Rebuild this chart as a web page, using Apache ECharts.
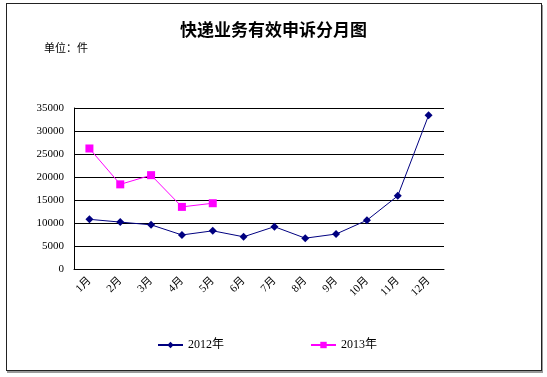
<!DOCTYPE html>
<html>
<head>
<meta charset="utf-8">
<script src="https://cdn.jsdelivr.net/npm/echarts@6/dist/echarts.min.js"></script>
<style>
html, body { margin: 0; padding: 0; background: #fff; }
#frame { position: absolute; left: 6px; top: 3px; width: 534px; height: 366px; border: 1px solid #222; box-shadow: 1px 2px 0 #999; }
#chart { position: absolute; left: 0; top: 0; width: 547px; height: 377px; }
</style>
</head>
<body>
<div id="frame"></div>
<div id="chart"></div>
<script>
const months = ['1月', '2月', '3月', '4月', '5月', '6月', '7月', '8月', '9月', '10月', '11月', '12月'];
const values2012 = [10800, 10200, 9600, 7400, 8300, 7000, 9200, 6700, 7600, 10600, 15900, 33400];
const values2013 = [26200, 18400, 20400, 13500, 14300];
const yTicks = [0, 5000, 10000, 15000, 20000, 25000, 30000, 35000];

const cjk = '"Noto Sans CJK SC", sans-serif';
const serif = '"Liberation Serif", "Noto Sans CJK SC", serif';

const chart = echarts.init(document.getElementById('chart'));
chart.setOption({
    animation: false,
    title: [
        { text: '快递业务有效申诉分月图', left: 'center', top: 16, textStyle: { fontFamily: cjk, fontSize: 17, fontWeight: 'bold', color: '#000' } },
        { text: '单位：件', left: 39, top: 37, textStyle: { fontFamily: cjk, fontSize: 11, fontWeight: 'normal', color: '#000' } }
    ],
    legend: {
        bottom: 21,
        left: 152,
        itemGap: 86,
        itemWidth: 25,
        itemHeight: 8,
        textStyle: { fontFamily: serif, fontSize: 12, color: '#000' },
        data: ['2012年', '2013年']
    },
    grid: { left: 74, right: 103, top: 108, bottom: 108 },
    xAxis: {
        type: 'category',
        data: months,
        boundaryGap: true,
        axisLine: { lineStyle: { color: '#000', width: 1 } },
        axisTick: { inside: true, length: 4, lineStyle: { color: '#000' } },
        axisLabel: { rotate: 45, margin: 10, fontFamily: serif, fontSize: 11, color: '#000' }
    },
    yAxis: {
        type: 'value',
        min: yTicks[0],
        max: yTicks[yTicks.length - 1],
        interval: 5000,
        axisLine: { show: true, lineStyle: { color: '#000', width: 1 } },
        axisTick: { show: false },
        axisLabel: { margin: 10, fontFamily: serif, fontSize: 11, color: '#000', formatter: v => String(v) },
        splitLine: { lineStyle: { color: '#000', width: 1 } }
    },
    series: [
        {
            name: '2012年', type: 'line', data: values2012,
            symbol: 'diamond', symbolSize: 8,
            lineStyle: { color: '#000080', width: 1 },
            itemStyle: { color: '#000080' }
        },
        {
            name: '2013年', type: 'line', data: values2013,
            symbol: 'rect', symbolSize: 8,
            lineStyle: { color: '#FF00FF', width: 1 },
            itemStyle: { color: '#FF00FF' }
        }
    ]
});
</script>
</body>
</html>
